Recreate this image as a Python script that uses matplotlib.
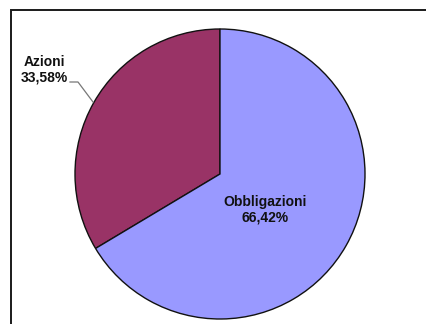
import matplotlib.pyplot as plt
from matplotlib.patches import Rectangle

labels = ['Azioni', 'Obbligazioni']
shares = [33.58, 66.42]
colors = ['#993366', '#9999FF']

plt.rcParams['font.family'] = ['Liberation Sans', 'DejaVu Sans']

fig = plt.figure(figsize=(4.26, 3.24), dpi=100)
ax = fig.add_axes([0, 0, 1, 1])
ax.set_xlim(0, 426)
ax.set_ylim(0, 324)
ax.set_aspect('equal')
ax.axis('off')

# outer chart frame (runs off the right/bottom of the image)
fig.patches.append(Rectangle((11 / 426, -0.1), 1.2, 1 - 10 / 324 + 0.1,
                             transform=fig.transFigure, fill=False,
                             edgecolor='#1a1a1a', linewidth=1.4))

wedges, _ = ax.pie(shares, colors=colors, startangle=90, counterclock=True,
                   center=(220, 150), radius=145,
                   wedgeprops=dict(edgecolor='#111111', linewidth=1.0))
ax.set_xlim(0, 426)
ax.set_ylim(0, 324)

def fmt(v):
    return ('%.2f%%' % v).replace('.', ',')

# Obbligazioni label inside the slice
ax.text(265.5, 324 - 210, '%s\n%s' % (labels[1], fmt(shares[1])),
        ha='center', va='center', fontsize=10, fontweight='bold',
        color='#111111', linespacing=1.1)

# Azioni label outside with leader line
ax.text(44.5, 324 - 70, '%s\n%s' % (labels[0], fmt(shares[0])),
        ha='center', va='center', fontsize=10, fontweight='bold',
        color='#111111', linespacing=1.1)
ax.plot([70, 78, 93], [324 - 82, 324 - 82, 324 - 102],
        color='#777777', linewidth=0.9)

fig.savefig('out.png', dpi=100)
